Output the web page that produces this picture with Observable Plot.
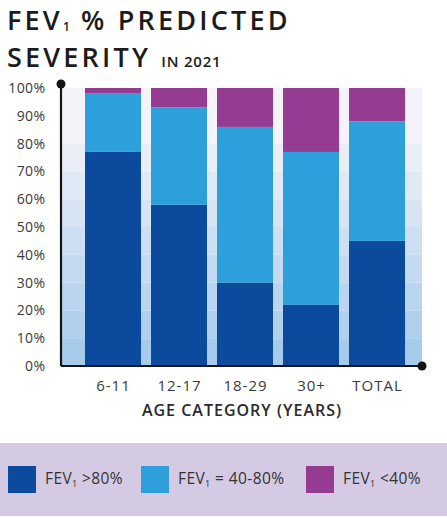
<!DOCTYPE html>
<html>
<head>
<meta charset="utf-8">
<script src="https://cdn.jsdelivr.net/npm/d3@7"></script>
<script src="https://cdn.jsdelivr.net/npm/@observablehq/plot@0.6"></script>
<style>
  html, body { margin: 0; padding: 0; }
  body { width: 447px; height: 518px; position: relative; background: #fff; overflow: hidden;
         font-family: "Open Sans", "DejaVu Sans", sans-serif; color: #2a2a2a; }
  #title { position: absolute; left: 7px; top: 5px; font-size: 27px; font-weight: 600; color: #1c1c1c;
           line-height: 30px; letter-spacing: 3.2px; white-space: nowrap; }
  #title .sub { font-size: 12px; letter-spacing: 0; vertical-align: -1px; margin-right: 1px; }
  #title .small { font-size: 15px; letter-spacing: 0.8px; }
  #chart { position: absolute; left: 0; top: 72px; }
  #xtitle { position: absolute; left: 42px; width: 400px; top: 399px; text-align: center;
            font-size: 16px; font-weight: 600; letter-spacing: 1px; color: #2a2a2a; }
  #legend { position: absolute; left: 0; top: 443px; width: 447px; height: 73px; background: #d4cae3; }
  #legend .sw { position: absolute; top: 23px; width: 28px; height: 27px; }
  #legend .lab { position: absolute; top: 25px; font-size: 15.5px; letter-spacing: 0.4px; color: #333; white-space: nowrap; line-height: 20px; }
  #legend .lab sub { font-size: 9px; vertical-align: -3px; }
</style>
</head>
<body>
<div id="title">FEV<span class="sub">1</span> % PREDICTED<br>SEVERITY <span class="small">IN 2021</span></div>
<div id="chart"></div>
<div id="xtitle"></div>
<div id="legend"></div>
<script>
// ---- data ----
const categories = ["6-11", "12-17", "18-29", "30+", "TOTAL"];
const seriesNames = ["FEV1 >80%", "FEV1 = 40-80%", "FEV1 <40%"];
const above80 = [77, 58, 30, 22, 45];
const between40and80 = [21, 35, 56, 55, 43];
const below40 = [2, 7, 14, 23, 12];
const yTicks = [0, 10, 20, 30, 40, 50, 60, 70, 80, 90, 100];
const xAxisTitle = "AGE CATEGORY (YEARS)";
const colors = ["#0b4a9c", "#2da0db", "#953b92"];

// tidy rows (series order = stacking order, bottom first)
const seriesValues = [above80, between40and80, below40];
const rows = [];
seriesValues.forEach((vals, s) => vals.forEach((v, i) => rows.push({cat: categories[i], series: seriesNames[s], value: v})));

// background bands (top band spans 80-100)
const bandEdges = [0, 10, 20, 30, 40, 50, 60, 70, 80, 100];
const bandColor = d3.interpolateRgb("#a6cbeb", "#f3f3f9");
const bandMarks = bandEdges.slice(0, -1).map((lo, i) =>
  Plot.rect([{lo, hi: bandEdges[i + 1]}], {y1: "lo", y2: "hi", fill: bandColor(i / (bandEdges.length - 2))})
);

// axis lines with end dots
function axisLines(index, scales, values, dimensions) {
  const sc = scales && scales.y ? scales : (index && index.y ? index : scales);
  const dim = dimensions && dimensions.width ? dimensions : values;
  const y = sc.y;
  const x0 = dim.marginLeft, x1 = dim.width - dim.marginRight;
  const y0 = y(0), yTop = y(100) - 4;
  const g = d3.create("svg:g");
  g.append("line").attr("x1", x0).attr("x2", x0).attr("y1", y0).attr("y2", yTop)
    .attr("stroke", "#151515").attr("stroke-width", 2.2);
  g.append("line").attr("x1", x0).attr("x2", x1).attr("y1", y0).attr("y2", y0)
    .attr("stroke", "#151515").attr("stroke-width", 2.2);
  g.append("circle").attr("cx", x0).attr("cy", yTop).attr("r", 4.5).attr("fill", "#151515");
  g.append("circle").attr("cx", x1).attr("cy", y0).attr("r", 4.5).attr("fill", "#151515");
  return g.node();
}

const chart = Plot.plot({
  width: 447,
  height: 330,
  marginTop: 16,
  marginBottom: 36,
  marginLeft: 61,
  marginRight: 25,
  style: {fontFamily: "'Open Sans', 'DejaVu Sans', sans-serif", fontSize: "14px", color: "#3a3a3a", background: "transparent", overflow: "visible"},
  x: {domain: categories, range: [84, 405], paddingInner: 0.155, paddingOuter: 0, label: null, tickSize: 0, tickPadding: 14},
  y: {domain: [0, 100], ticks: yTicks, tickFormat: d => d + "%", label: null, tickSize: 0, tickPadding: 16},
  color: {domain: seriesNames, range: colors},
  marks: [
    ...bandMarks,
    Plot.barY(rows, {x: "cat", y: "value", fill: "series"}),
    axisLines
  ]
});
document.getElementById("chart").appendChild(chart);
const svgSel = d3.select(chart);
svgSel.selectAll("text").style("letter-spacing", "0.4px");
// x tick labels: slightly larger, wider spacing
svgSel.selectAll("text").filter(function() { return categories.includes(this.textContent); })
  .style("font-size", "15px").style("letter-spacing", "1px");

document.getElementById("xtitle").textContent = xAxisTitle;

// legend
const legend = d3.select("#legend");
const swX = [8, 141, 306];
const labX = [45, 178, 343];
const legendParts = [">80%", "= 40-80%", "<40%"];
seriesNames.forEach((name, i) => {
  legend.append("div").attr("class", "sw").style("left", swX[i] + "px").style("background", colors[i]);
  legend.append("div").attr("class", "lab").style("left", labX[i] + "px")
    .html("FEV<sub>1</sub> " + legendParts[i]);
});
</script>
</body>
</html>
